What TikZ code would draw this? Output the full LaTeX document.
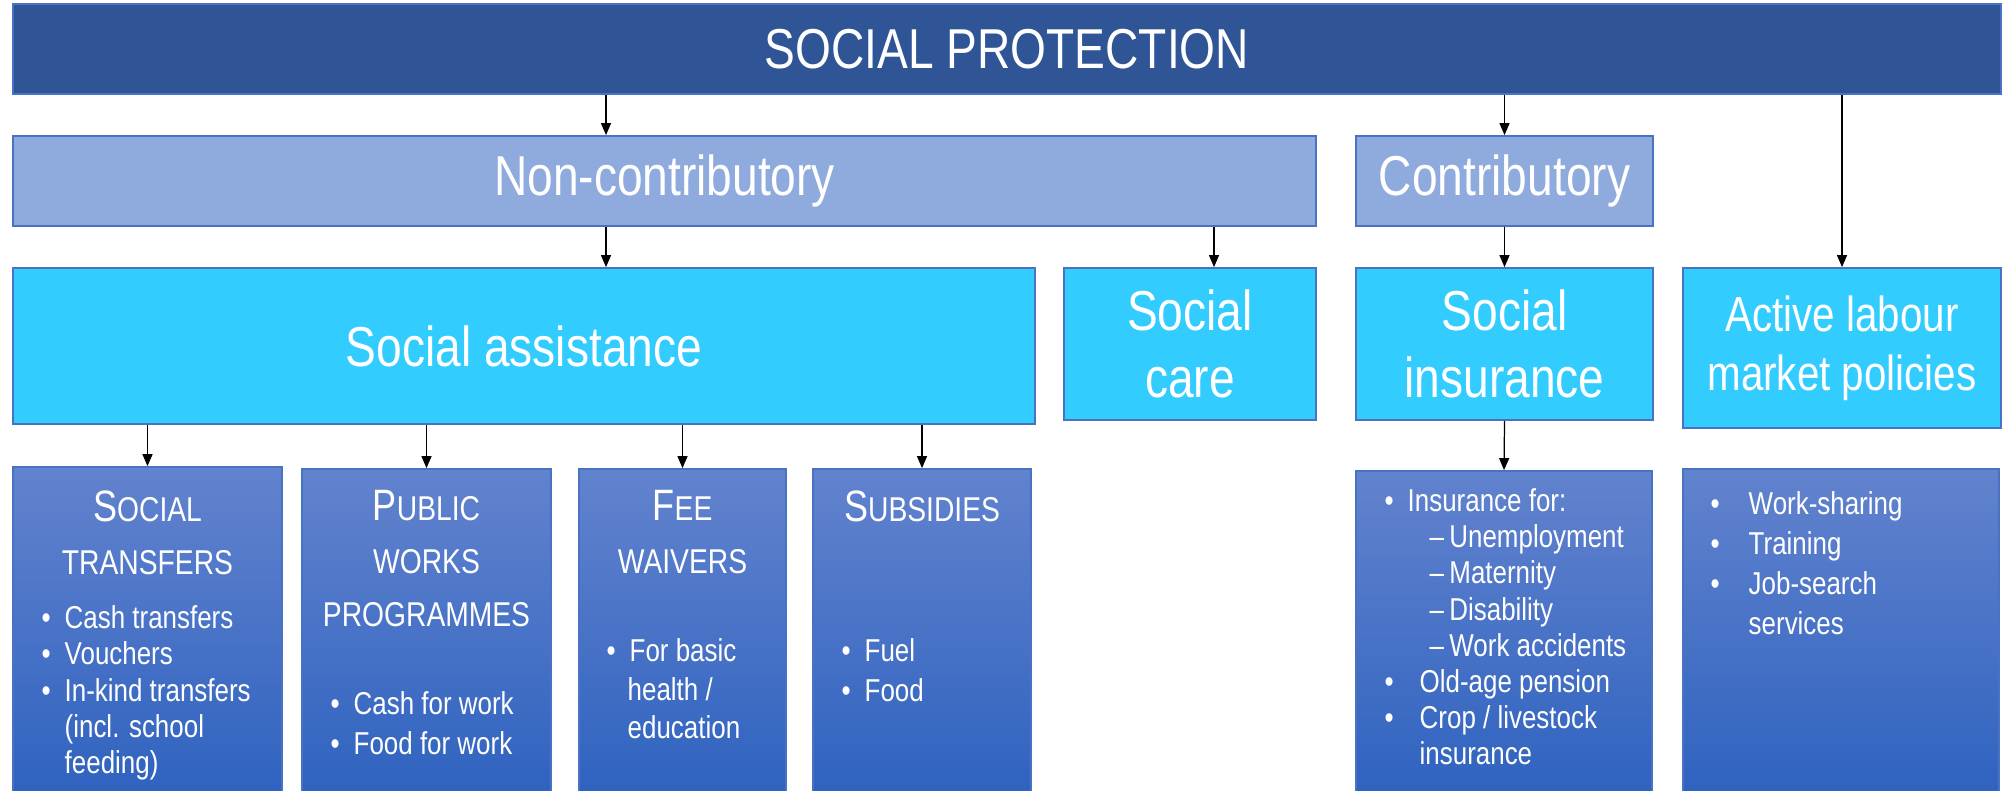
\documentclass[tikz,border=0pt]{standalone}
\usepackage{fontspec}
\setmainfont[FakeStretch=0.82]{Liberation Sans}
\usepackage{tikz}
\usetikzlibrary{positioning}
\usetikzlibrary{arrows.meta}

\definecolor{spblue}{HTML}{2F5597}
\definecolor{ncblue}{HTML}{8FAADC}
\definecolor{sacyan}{HTML}{33CCFF}
\definecolor{boxtop}{HTML}{6283CE}
\definecolor{boxbot}{HTML}{2E62BF}
\definecolor{edge}{HTML}{4A72C4}

\newcommand{\scap}[2]{{\fontsize{12.5}{15}\selectfont #1}#2}
\newcommand{\bul}[1][2.3mm]{\makebox[#1][l]{\textbullet}}

\begin{document}
\begin{tikzpicture}[
        x = 0.1mm,
        y = -0.1mm,
        box/.style = {
            draw = edge,
            line width = 0.5pt,
            rectangle,
            text = white,
            align = center,
            inner sep = 0pt,
            font = \fontsize{16}{19}\selectfont
        },
        lowbox/.style = {
            box,
            top color = boxtop,
            bottom color = boxbot
        },
        head/.style = {
            text = white,
            align = center,
            inner sep = 0pt,
            anchor = north,
            font = \fontsize{9.8}{15}\selectfont
        },
        items/.style = {
            text = white,
            align = left,
            inner sep = 0pt,
            anchor = north west,
            font = \fontsize{9}{#1}\selectfont
        },
        items/.default = 10.3pt,
        arr/.style = {
            -{Triangle[length=1.2mm, width=1mm]},
            line width = 0.35pt
        }
        ]
        \useasboundingbox (0,0) rectangle (2008,791);
%
        \node[box, fill=spblue, minimum width=198.8mm, minimum height=9mm] (sp) at (1007,49) {SOCIAL PROTECTION};
%
        \node[box, fill=ncblue, minimum width=130.3mm, minimum height=9mm] (nc) at (664.5,181) {Non-contributory};
        \node[box, fill=ncblue, minimum width=29.7mm, minimum height=9mm] (co) at (1504.5,181) {Contributory};
%
        \node[box, fill=sacyan, minimum width=102.2mm, minimum height=15.6mm] (sa) at (524,346) {Social assistance};
        \node[box, fill=sacyan, minimum width=25.2mm, minimum height=15.2mm] (sc) at (1190,344) {Social\\care};
        \node[box, fill=sacyan, minimum width=29.7mm, minimum height=15.2mm] (si) at (1504.5,344) {Social\\insurance};
        \node[box, fill=sacyan, minimum width=31.8mm, minimum height=16mm, font=\fontsize{14}{16.8}\selectfont] (al) at (1842,348) {Active labour\\market policies};
%
        \node[lowbox, minimum width=26.9mm, minimum height=33.3mm] (tr) at (147.5,633.5) {};
        \node[lowbox, minimum width=24.9mm, minimum height=33.1mm] (pw) at (426.5,634.5) {};
        \node[lowbox, minimum width=20.7mm, minimum height=33.1mm] (fw) at (682.5,634.5) {};
        \node[lowbox, minimum width=21.8mm, minimum height=33.1mm] (su) at (922,634.5) {};
        \node[lowbox, minimum width=29.6mm, minimum height=32.9mm] (ib) at (1504,635.5) {};
        \node[lowbox, minimum width=31.6mm, minimum height=33.1mm] (ab) at (1841,634.5) {};
%
        \node[head] (trh) at (147.5,490) {\scap{S}{OCIAL}\\TRANSFERS};
        \node[items] (tri) at (41,605) {\bul Cash transfers\\\bul Vouchers\\\bul In-kind transfers\\\hspace*{2.3mm}(incl. school\\\hspace*{2.3mm}feeding)};
%
        \node[head] (pwh) at (426.5,490) {\scap{P}{UBLIC}\\WORKS\\PROGRAMMES};
        \node[items=11.4pt] (pwi) at (330,691) {\bul Cash for work\\\bul Food for work};
%
        \node[head] (fwh) at (682.5,490) {\scap{F}{EE}\\WAIVERS};
        \node[items=11pt] (fwi) at (606,638) {\bul For basic\\\hspace*{2.1mm}health /\\\hspace*{2.1mm}education};
%
        \node[head] (suh) at (922,490) {\scap{S}{UBSIDIES}};
        \node[items=11.4pt] (sui) at (841,638) {\bul Fuel\\\bul Food};
%
        \node[items] (ibi) at (1384,488) {\bul Insurance for:\\\hspace*{4.5mm}--\,Unemployment\\\hspace*{4.5mm}--\,Maternity\\\hspace*{4.5mm}--\,Disability\\\hspace*{4.5mm}--\,Work accidents\\\bul[3.5mm]Old-age pension\\\bul[3.5mm]Crop / livestock\\\hspace*{3.5mm}insurance};
%
        \node[items=11.4pt] (abi) at (1710,491) {\bul[3.8mm]Work-sharing\\\bul[3.8mm]Training\\\bul[3.8mm]Job-search\\\hspace*{3.8mm}services};
%
%
        \draw[arr] ([xshift=-5.85mm]nc.north |- sp.south) -- ([xshift=-5.85mm]nc.north);
        \draw[arr] (sp.south -| co.north) -- (co.north);
        \draw[arr] (sp.south -| al.north) -- (al.north);
%
        \draw[arr] ([xshift=-5.85mm]nc.south) -- ([xshift=-5.85mm]nc.south |- sa.north);
        \draw[arr] ([xshift=2.4mm]sc.north |- nc.south) -- ([xshift=2.4mm]sc.north);
        \draw[arr] (co.south) -- (si.north);
%
        \foreach \b in {tr,pw,fw,su}
            \draw[arr] (sa.south -| \b.north) -- (\b.north);
        \draw[arr] (si.south) -- (ib.north);
    \end{tikzpicture}
\end{document}
